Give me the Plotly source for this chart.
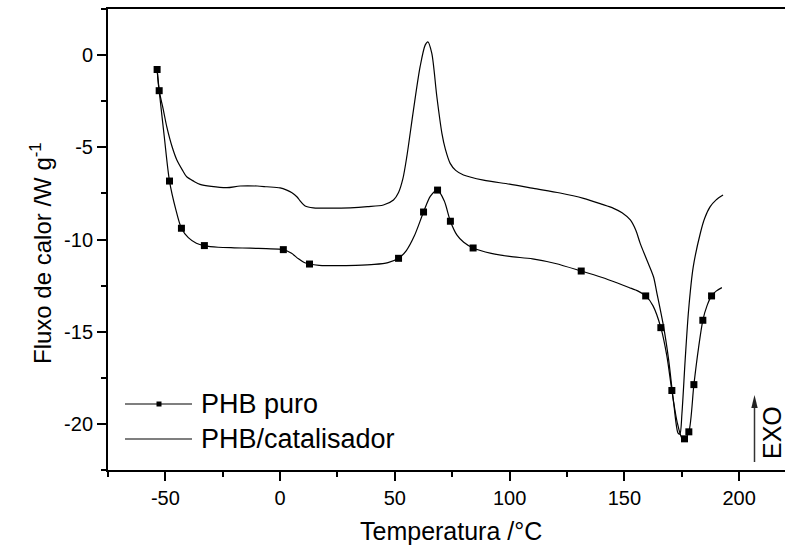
import plotly.graph_objects as go

# ---------------- data ----------------
puro_T = [-53.6, -52.7, -50.5, -48.2, -45.5, -43, -40, -36.5, -33, -27, -20, -13, -6, 1.4,
          5, 8, 10.5, 12.8, 17, 25, 33, 41, 47, 51.6, 55, 58.5, 62.5, 65.5, 68.6, 71.5,
          74.2, 77, 80, 84.1, 92, 100, 110, 120, 131.2, 140, 147, 152, 156, 159.3, 162.5,
          165.9, 168.5, 170.7, 173, 175, 176.2, 178.1, 180.3, 182.3, 184.2, 186, 188, 190, 192.5]
puro_Q = [-0.78, -1.93, -4.4, -6.83, -8.35, -9.39, -9.9, -10.2, -10.33, -10.42, -10.45, -10.47,
          -10.5, -10.55, -10.75, -11.05, -11.25, -11.33, -11.4, -11.42, -11.4, -11.35, -11.25,
          -11.02, -10.6, -9.8, -8.51, -7.65, -7.32, -7.9, -9.01, -9.75, -10.15, -10.46, -10.75,
          -10.92, -11.05, -11.3, -11.71, -12.05, -12.36, -12.6, -12.8, -13.06, -13.6, -14.78,
          -16.3, -18.19, -19.9, -20.75, -20.81, -20.43, -17.87, -15.9, -14.38, -13.6, -13.06,
          -12.8, -12.61]

puro_mark_T = [-53.6, -52.7, -48.2, -43, -33, 1.4, 12.8, 51.6, 62.5, 68.6, 74.2, 84.1, 131.2,
               159.3, 165.9, 170.7, 176.2, 178.1, 180.3, 184.2, 188]
puro_mark_Q = [-0.78, -1.93, -6.83, -9.39, -10.33, -10.55, -11.33, -11.02, -8.51, -7.32, -9.01,
               -10.46, -11.71, -13.06, -14.78, -18.19, -20.81, -20.43, -17.87, -14.38, -13.06]

cat_T = [-53.6, -52.7, -51, -49.4, -47, -45, -42.5, -40.7, -37.5, -34.9, -30, -23.2, -17.4, -10,
         -5.8, 0, 2.9, 5, 7.3, 9, 10.9, 14.5, 22, 30.5, 38, 45, 49.4, 51.6, 53.5, 55.2, 58.1, 61,
         63.2, 64.4, 66.1, 68.3, 70.5, 72, 74.1, 76.5, 79.9, 88.6, 100, 110.4, 122, 132.2, 140,
         145.3, 149, 152.6, 155, 156.9, 159.8, 162.7, 164.2, 167.1, 169.3, 171.5, 173.4, 174.2,
         175.1, 176.5, 178, 180, 183.1, 185, 187.4, 190, 193]
cat_Q = [-0.78, -1.93, -2.9, -3.88, -5.0, -5.69, -6.25, -6.6, -6.85, -7.01, -7.12, -7.19, -7.1,
         -7.1, -7.14, -7.2, -7.32, -7.45, -7.68, -7.95, -8.18, -8.28, -8.3, -8.28, -8.22, -8.13,
         -7.86, -7.45, -6.7, -5.51, -2.98, -0.63, 0.54, 0.72, 0.09, -2.26, -4.24, -5.1, -5.87,
         -6.25, -6.5, -6.78, -7.0, -7.23, -7.48, -7.77, -8.08, -8.31, -8.55, -8.94, -9.5, -10.21,
         -11.11, -12.02, -12.92, -14.73, -16.53, -18.88, -20.5, -20.55, -19.42, -16.53, -13.82,
         -11.5, -9.66, -8.85, -8.22, -7.85, -7.59]

legend_names = ["PHB puro", "PHB/catalisador"]
x_title = "Temperatura /°C"
y_title = "Fluxo de calor /W g<sup>-1</sup>"
exo_label = "EXO"
x_range = [-75, 220]
y_range = [-22.5, 2.5]
x_tickvals = [-50, 0, 50, 100, 150, 200]
x_ticktext = ["-50", "0", "50", "100", "150", "200"]
y_tickvals = [-20, -15, -10, -5, 0]
y_ticktext = ["-20", "-15", "-10", "-5", "0"]

FONT = "Liberation Sans, Arial, sans-serif"

fig = go.Figure()
fig.add_trace(go.Scatter(x=cat_T, y=cat_Q, mode="lines", name=legend_names[1],
                         line=dict(color="black", width=1.2, shape="spline", smoothing=0.8),
                         showlegend=False))
fig.add_trace(go.Scatter(x=puro_T, y=puro_Q, mode="lines", name=legend_names[0],
                         line=dict(color="black", width=1.2, shape="spline", smoothing=0.8),
                         showlegend=False))
fig.add_trace(go.Scatter(x=puro_mark_T, y=puro_mark_Q, mode="markers", name=legend_names[0],
                         marker=dict(symbol="square", size=7, color="black"),
                         showlegend=False))

W, H = 785, 548
ml, mr, mt, mb = 108, 0, 9, 78
pw, ph = W - ml - mr, H - mt - mb

def px(xp):
    return (xp - ml) / pw

def py(yp):
    return (H - mb - yp) / ph

shapes = []
annotations = []
# manual legend
leg_rows = [404, 439]
for i, name in enumerate(legend_names):
    yy = py(leg_rows[i])
    shapes.append(dict(type="line", xref="paper", yref="paper", x0=px(125), x1=px(192),
                       y0=yy, y1=yy, line=dict(color="black", width=1.2)))
    annotations.append(dict(xref="paper", yref="paper", x=px(199), y=yy, text=name,
                            xanchor="left", yanchor="middle", showarrow=False,
                            font=dict(family=FONT, size=27, color="black")))
shapes.append(dict(type="rect", xref="paper", yref="paper",
                   x0=px(156.5), x1=px(161.5), y0=py(leg_rows[0] + 2.5), y1=py(leg_rows[0] - 2.5),
                   fillcolor="black", line=dict(width=0)))

# EXO arrow (shaft + head) and label
shapes.append(dict(type="line", xref="paper", yref="paper", x0=px(754.5), x1=px(754.5),
                   y0=py(462), y1=py(404), line=dict(color="#333333", width=1.5)))
shapes.append(dict(type="path", xref="paper", yref="paper",
                   path="M {:.5f},{:.5f} L {:.5f},{:.5f} L {:.5f},{:.5f} Z".format(
                       px(754.5), py(395), px(751.3), py(408), px(757.7), py(408)),
                   fillcolor="#222222", line=dict(width=0)))
annotations.append(dict(xref="paper", yref="paper", x=px(772), y=py(433), text=exo_label,
                        textangle=-90, showarrow=False, xanchor="center", yanchor="middle",
                        font=dict(family=FONT, size=25, color="black")))

# axis titles
annotations.append(dict(xref="paper", yref="paper", x=px(41), y=py(253), text=y_title,
                        textangle=-90, showarrow=False, xanchor="center", yanchor="middle",
                        font=dict(family=FONT, size=24, color="black")))
annotations.append(dict(xref="paper", yref="paper", x=px(451), y=py(531), text=x_title,
                        showarrow=False, xanchor="center", yanchor="middle",
                        font=dict(family=FONT, size=25, color="black")))

fig.update_layout(
    width=W, height=H,
    margin=dict(l=ml, r=mr, t=mt, b=mb),
    paper_bgcolor="white", plot_bgcolor="white",
    font=dict(family=FONT, color="black"),
    shapes=shapes, annotations=annotations,
    showlegend=False,
)
fig.update_xaxes(
    range=x_range, showgrid=False, zeroline=False,
    showline=True, linecolor="black", linewidth=2, mirror=True,
    ticks="outside", ticklen=9, tickwidth=2, tickcolor="black",
    tickmode="array", tickvals=x_tickvals, ticktext=x_ticktext,
    minor=dict(ticks="outside", ticklen=5, tickwidth=2, tickcolor="black", dtick=25, tick0=0),
    tickfont=dict(family=FONT, size=20, color="black"),
)
fig.update_yaxes(
    range=y_range, showgrid=False, zeroline=False,
    showline=True, linecolor="black", linewidth=2, mirror=False,
    ticks="outside", ticklen=9, tickwidth=2, tickcolor="black",
    tickmode="array", tickvals=y_tickvals, ticktext=y_ticktext,
    minor=dict(ticks="outside", ticklen=5, tickwidth=2, tickcolor="black", dtick=2.5, tick0=0),
    tickfont=dict(family=FONT, size=20, color="black"),
)

fig.write_html("out.html")
